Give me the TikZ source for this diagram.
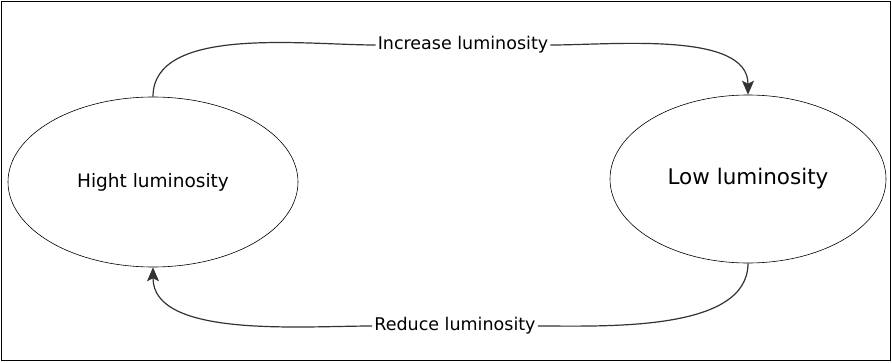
\documentclass[tikz,border=0pt]{standalone}
\usepackage{fontspec}
\setmainfont{DejaVu Sans}
\usetikzlibrary{positioning, arrows.meta, shapes.geometric}
\definecolor{cline}{HTML}{333333}
\tikzset{
  st/.style={draw, ellipse, line width=0.6pt, minimum width=290pt, minimum height=170pt,
             inner sep=0pt, align=center},
  lbl/.style={fill=white, inner sep=2pt, font=\fontsize{17.5}{20}\selectfont},
  fl/.style={-{Stealth[length=14pt, width=12pt, inset=3pt]}, line width=1.2pt, draw=cline, fill=cline},
}

\begin{document}
\begin{tikzpicture}[x=1pt, y=-1pt]
  \useasboundingbox (0,0) rectangle (892,362);
  \draw[line width=0.8pt] (1.5,1.5) rectangle (890.5,360.5);
  % ---------- states ----------
  \node[st, font=\fontsize{18.5}{22}\selectfont] (hi) at (153,182) {Hight luminosity};
  \node[st, minimum width=276pt, minimum height=168pt, font=\fontsize{21.5}{25}\selectfont]
        (lo) at (748,179) {Low luminosity};
  % ---------- transitions ----------
  \node[lbl] (inc) at (463,45) {Increase luminosity};
  \node[lbl] (red) at (455,326) {Reduce luminosity};
  \draw[line width=1.2pt, cline] (hi.north) to[out=90, in=180, looseness=0.8] (inc.west);
  \draw[fl, fill=none] (inc.east) to[out=0, in=90, looseness=0.8] (lo.north);
  \draw[line width=1.2pt, cline] (lo.south) to[out=-90, in=0, looseness=0.8] (red.east);
  \draw[fl, fill=none] (red.west) to[out=180, in=-90, looseness=0.8] (hi.south);
\end{tikzpicture}
\end{document}
